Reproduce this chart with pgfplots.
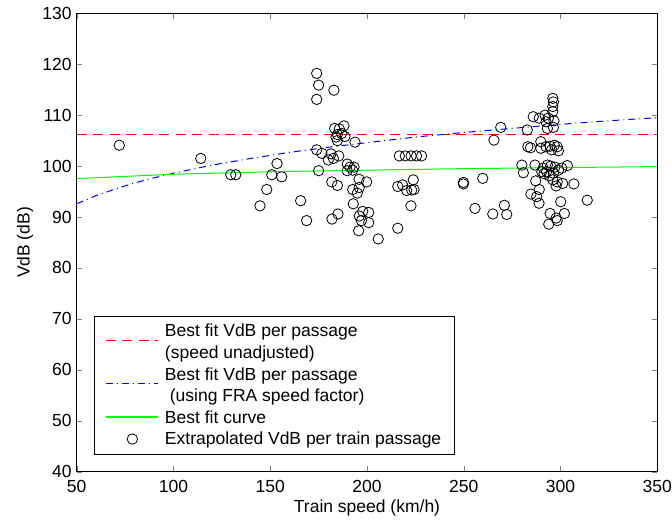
\documentclass[border=0pt]{standalone}
\usepackage{fontspec}
\setmainfont{Liberation Sans}
\usepackage{pgfplots}
\pgfplotsset{compat=1.18}
\newcommand\fs{\fontsize{17.5bp}{22bp}\selectfont}
\newcommand\lstrut{\rule[-4bp]{0pt}{17bp}}
\pgfplotsset{
  % line sample, shifted down by #1 (two-line entries), stroke colour #2
  linelegend/.style 2 args={legend image code/.code={
    \draw[##1, draw=#2] (0bp,#1) -- (52bp,#1);}},
  greenlegend/.style={legend image code/.code={
    \draw[##1, draw=green, line width=1.3bp] (0bp,0.5bp) -- (52bp,0.5bp);}},
  marklegend/.style={legend image code/.code={
    \draw[##1, draw=black] plot coordinates {(26.7bp,#1)};}},
}
\begin{document}
\begin{tikzpicture}
\begin{axis}[
  scale only axis,
  width=580.6bp, height=458.4bp,
  xmin=50, xmax=350, ymin=40, ymax=130,
  xtick={50,100,...,350}, ytick={40,50,...,130},
  tick align=inside, major tick length=5.5bp,
  axis line style={line width=1.1bp},
  /pgf/number format/assume math mode=true,
  tick label style={font=\fs},
  xticklabel style={anchor=base, yshift=-21bp},
  yticklabel style={anchor=east, inner sep=0bp, xshift=-5bp},
  xlabel={Train speed (km/h)}, ylabel={VdB (dB)},
  every axis x label/.style={at={([yshift=-36.3bp]axis description cs:0.5,0)}, anchor=center, font=\fs},
  every axis y label/.style={at={([xshift=-51.7bp]axis description cs:0,0.5)}, rotate=90, anchor=center, font=\fs},
  legend cell align=left,
  legend style={at={(0.0303,0.0386)}, anchor=south west, font=\fs,
    inner xsep=10.5bp, inner ysep=5.5bp, column sep=4.7bp, row sep=3bp},
]
\addplot[red, line width=1bp, dash pattern=on 10bp off 6.5bp, linelegend={-9.5bp}{red}]
  coordinates {(50,106.25) (350,106.25)};
\addlegendentry{\lstrut Best fit VdB per passage}
\addlegendimage{empty legend}
\addlegendentry{\lstrut (speed unadjusted)}

\addplot[blue, line width=1bp, dash pattern=on 7bp off 4bp on 1bp off 4bp, linelegend={-8.5bp}{blue}]
  coordinates {(50,92.6) (60,94.2) (70,95.5) (80,96.7) (90,97.7) (100,98.6)
    (120,100.2) (140,101.5) (160,102.7) (180,103.7) (200,104.6) (225,105.7)
    (250,106.6) (275,107.4) (300,108.2) (325,108.9) (350,109.5)};
\addlegendentry{\lstrut Best fit VdB per passage}
\addlegendimage{empty legend}
\addlegendentry{\lstrut \ (using FRA speed factor)}

\addplot[green, line width=1bp, greenlegend]
  coordinates {(50,97.55) (100,98.4) (150,98.9) (200,99.2) (250,99.5) (300,99.7) (350,99.9)};
\addlegendentry{\lstrut Best fit curve}

\addplot[only marks, mark=o, mark size=5.2bp, black, line width=0.8bp, marklegend=0bp]
  table {
v dB
72.0 104.1
114.1 101.5
129.6 98.3
132.2 98.3
150.8 98.3
148.2 95.4
144.7 92.2
153.5 100.5
155.9 97.9
174.0 118.2
175.0 115.9
182.9 114.9
174.0 113.1
183.3 107.4
185.7 107.3
188.1 107.9
184.7 106.2
186.9 106.4
184.0 105.7
188.6 105.8
184.7 105.0
193.8 104.7
174.0 103.2
176.7 102.5
181.4 102.4
185.4 102.0
180.0 101.2
182.6 101.5
175.0 99.1
189.8 100.4
191.2 99.8
193.3 99.8
189.8 99.1
192.6 99.2
181.8 96.9
184.7 96.2
195.9 97.4
199.8 96.9
192.6 95.4
196.0 95.8
195.0 94.7
192.9 92.6
165.7 93.2
168.8 89.3
181.9 89.6
185.0 90.6
197.8 91.1
200.9 90.9
196.0 90.2
197.1 89.3
200.9 88.9
195.7 87.3
205.8 85.7
215.9 87.8
216.7 102.0
219.8 102.0
222.8 102.0
225.6 102.0
228.2 102.0
215.9 96.0
218.4 96.3
220.5 95.2
223.1 95.3
224.3 95.4
223.9 97.3
222.7 92.2
249.8 96.5
249.8 96.8
255.8 91.7
259.8 97.6
265.0 90.6
271.0 92.3
272.2 90.5
265.6 105.1
269.1 107.6
282.8 107.1
285.9 109.7
289.0 109.4
292.0 110.0
293.7 109.4
292.5 108.7
296.0 110.7
296.6 108.9
296.3 107.6
293.2 107.4
296.0 113.3
296.3 112.6
296.0 111.7
283.1 103.8
284.5 103.6
289.8 104.8
289.8 103.5
292.5 103.8
294.6 103.9
296.8 104.1
298.3 103.8
298.9 103.0
295.4 103.2
280.0 100.2
280.8 98.7
286.8 100.2
287.2 97.1
291.0 99.6
292.8 98.9
294.9 100.0
297.1 99.8
298.9 99.2
296.3 98.6
294.2 98.1
291.5 98.5
290.3 98.9
300.6 99.6
303.5 100.1
296.0 97.3
298.3 96.9
301.1 96.6
297.7 96.1
306.9 96.5
293.2 100.2
289.0 95.4
284.7 94.5
287.7 94.0
288.9 92.7
313.8 93.3
300.1 93.0
294.6 90.7
297.7 89.8
293.9 88.6
302.0 90.7
298.3 89.3
};
\addlegendentry{\lstrut Extrapolated VdB per train passage}
\end{axis}
\pgfresetboundingbox
\path[use as bounding box] ([shift={(-76.7bp,-48.3bp)}]current axis.south west)
  rectangle ([shift={(14.7bp,13.3bp)}]current axis.north east);
\end{tikzpicture}
\end{document}
